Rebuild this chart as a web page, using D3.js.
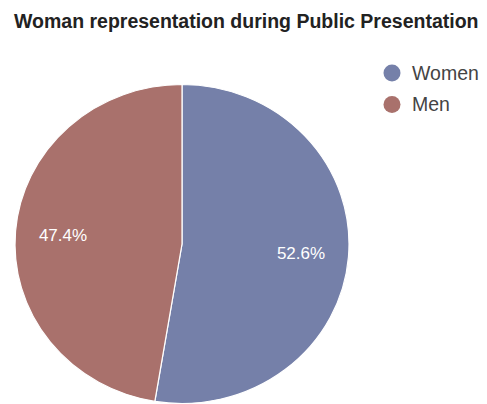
<!DOCTYPE html>
<html>
<head>
<meta charset="utf-8">
<script src="https://cdn.jsdelivr.net/npm/d3@7"></script>
<style>
  html, body { margin: 0; padding: 0; background: #fff; }
  svg { display: block; font-family: "Liberation Sans", Arial, sans-serif; }
</style>
</head>
<body>
<svg id="chart" width="487" height="404"></svg>
<script>
// Share of speakers by gender
const categories = ["Women", "Men"];
const shares = [52.6, 47.4];
const colors = ["#7580a9", "#a9716c"];
const title = "Woman representation during Public Presentation";

const svg = d3.select("#chart");
const W = 487, H = 404;

svg.append("rect").attr("width", W).attr("height", H).attr("fill", "#fff");

svg.append("text")
  .attr("x", 14)
  .attr("y", 28)
  .attr("font-size", 19.5)
  .attr("font-weight", "bold")
  .attr("fill", "#222")
  .text(title);

const cx = 182, cy = 244, rx = 167, ry = 159.5;

const color = d3.scaleOrdinal().domain(categories).range(colors);
const pie = d3.pie().sort(null).value(d => d.value);
const data = pie(categories.map((c, i) => ({ key: c, value: shares[i] })));
const arc = d3.arc().innerRadius(0).outerRadius(rx);

const g = svg.append("g")
  .attr("transform", `translate(${cx},${cy}) scale(1,${ry / rx})`);

g.selectAll("path")
  .data(data)
  .join("path")
  .attr("d", arc)
  .attr("fill", d => color(d.data.key))
  .attr("stroke", "#fff")
  .attr("stroke-width", 1.2);

// Percentage labels placed along each slice's bisector
const labelArc = d3.arc().innerRadius(rx * 0.715).outerRadius(rx * 0.715);
svg.append("g")
  .selectAll("text")
  .data(data)
  .join("text")
  .attr("transform", d => {
    const [x, y] = labelArc.centroid(d);
    return `translate(${cx + x},${cy + y * ry / rx})`;
  })
  .attr("text-anchor", "middle")
  .attr("dy", "0.35em")
  .attr("font-size", 17)
  .attr("fill", "#fff")
  .text(d => d.data.value.toFixed(1) + "%");

// Legend
const legend = svg.append("g")
  .selectAll("g")
  .data(categories)
  .join("g")
  .attr("transform", (d, i) => `translate(392,${73 + i * 31.5})`);

legend.append("circle")
  .attr("r", 8.5)
  .attr("fill", d => color(d));

legend.append("text")
  .attr("x", 20)
  .attr("dy", "0.35em")
  .attr("font-size", 19.5)
  .attr("fill", "#444")
  .text(d => d);
</script>
</body>
</html>
